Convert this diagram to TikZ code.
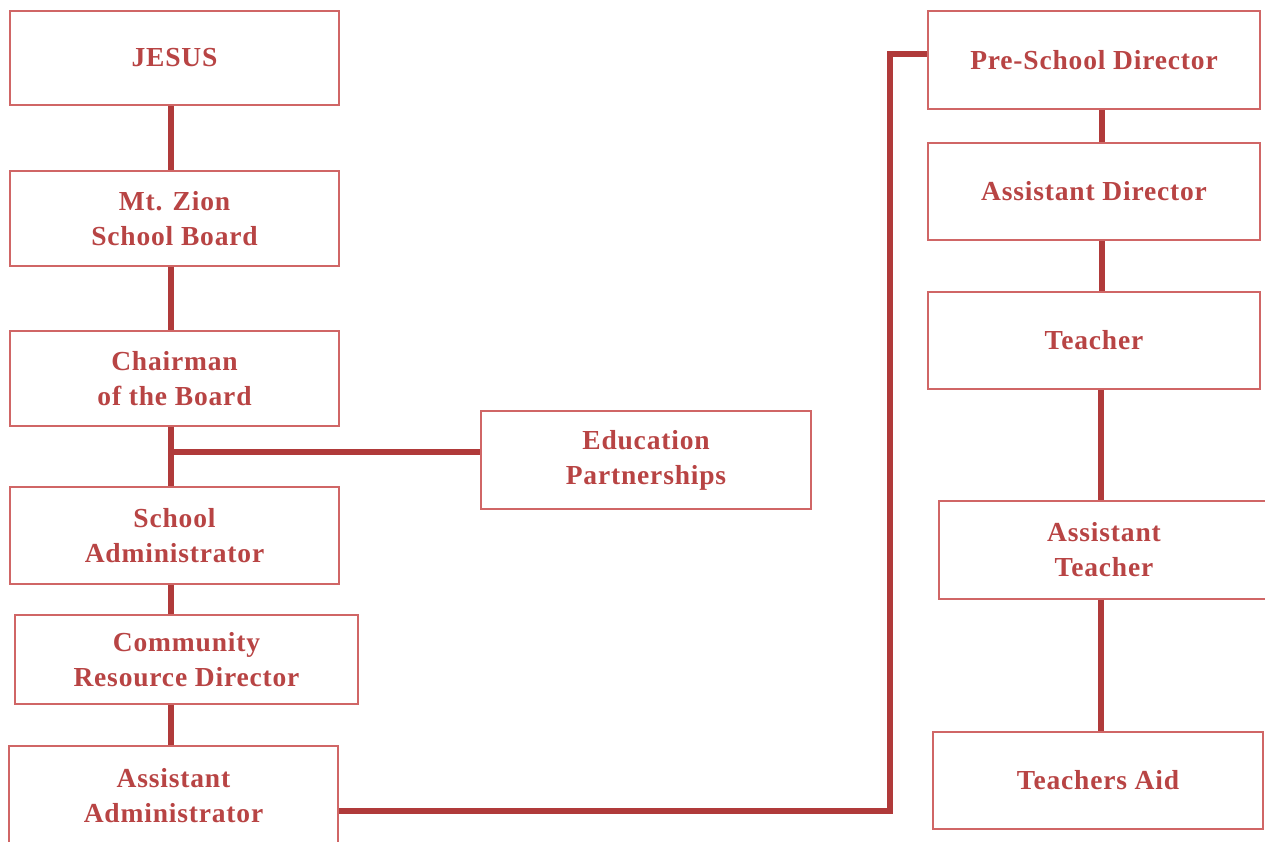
\documentclass[tikz,border=0pt]{standalone}
\usepackage{fontspec}
\setmainfont{Liberation Serif}[LetterSpace=3]
\definecolor{boxc}{HTML}{D06666}
\definecolor{txtc}{HTML}{B84444}
\definecolor{linec}{HTML}{B03A3A}
\tikzset{
  orgbox/.style={draw=boxc, line width=1.5pt, text=txtc, font=\fontsize{27.5}{35}\selectfont\bfseries,
    align=center, inner sep=0pt, fill=white},
  conn/.style={draw=linec, line width=5.5pt}
}
\begin{document}
\begin{tikzpicture}[x=1pt,y=-1pt]
\useasboundingbox[fill=white] (0,0) rectangle (1265,841);
% left column
\node[orgbox, minimum width=329pt, minimum height=94pt] (jesus) at (174.5,58) {JESUS};
\node[orgbox, minimum width=329pt, minimum height=95pt] (zion) at (174.5,218.5) {Mt. Zion\\School Board};
\node[orgbox, minimum width=329pt, minimum height=95pt] (chair) at (174.5,378.5) {Chairman\\of the Board};
\node[orgbox, minimum width=330pt, minimum height=98pt] (edu) at (646,460) {Education\\Partnerships};
\node[orgbox, minimum width=329pt, minimum height=97pt] (admin) at (174.5,535.5) {School\\Administrator};
\node[orgbox, minimum width=343pt, minimum height=89pt] (comm) at (186.5,659.5) {Community\\Resource Director};
\node[orgbox, minimum width=329pt, minimum height=99pt] (asst) at (173.5,795.5) {Assistant\\Administrator};
% right column
\node[orgbox, minimum width=332pt, minimum height=98pt] (pre) at (1094,60) {Pre-School Director};
\node[orgbox, minimum width=332pt, minimum height=97pt] (adir) at (1094,191.5) {Assistant Director};
\node[orgbox, minimum width=332pt, minimum height=97pt] (teacher) at (1094,340.5) {Teacher};
\node[orgbox, minimum width=330pt, minimum height=98pt] (ateach) at (1104,550) {Assistant\\Teacher};
\node[orgbox, minimum width=330pt, minimum height=97pt] (aid) at (1098,780.5) {Teachers Aid};
% connectors left
\coordinate (branch) at (171,452);
\coordinate (elbow) at (890,54);
\path[conn] ([xshift=-3.5pt]jesus.south) -- ([xshift=-3.5pt]zion.north);
\path[conn] ([xshift=-3.5pt]zion.south) -- ([xshift=-3.5pt]chair.north);
\path[conn] ([xshift=-3.5pt]chair.south) -- ([xshift=-3.5pt]admin.north);
\path[conn] (branch) -- ([yshift=8pt]edu.west);
\path[conn] ([xshift=-3.5pt]admin.south) -- (171,0 |- comm.north);
\path[conn] (171,0 |- comm.south) -- ([xshift=-2.5pt]asst.north);
\path[conn] ([yshift=-15.5pt]asst.east) -| (elbow) -- ([yshift=6pt]pre.west);
% connectors right
\path[conn] ([xshift=8pt]pre.south) -- ([xshift=8pt]adir.north);
\path[conn] ([xshift=8pt]adir.south) -- ([xshift=8pt]teacher.north);
\path[conn] ([xshift=7pt]teacher.south) -- (1101,0 |- ateach.north);
\path[conn] (1101,0 |- ateach.south) -- (1101,0 |- aid.north);
\end{tikzpicture}
\end{document}
